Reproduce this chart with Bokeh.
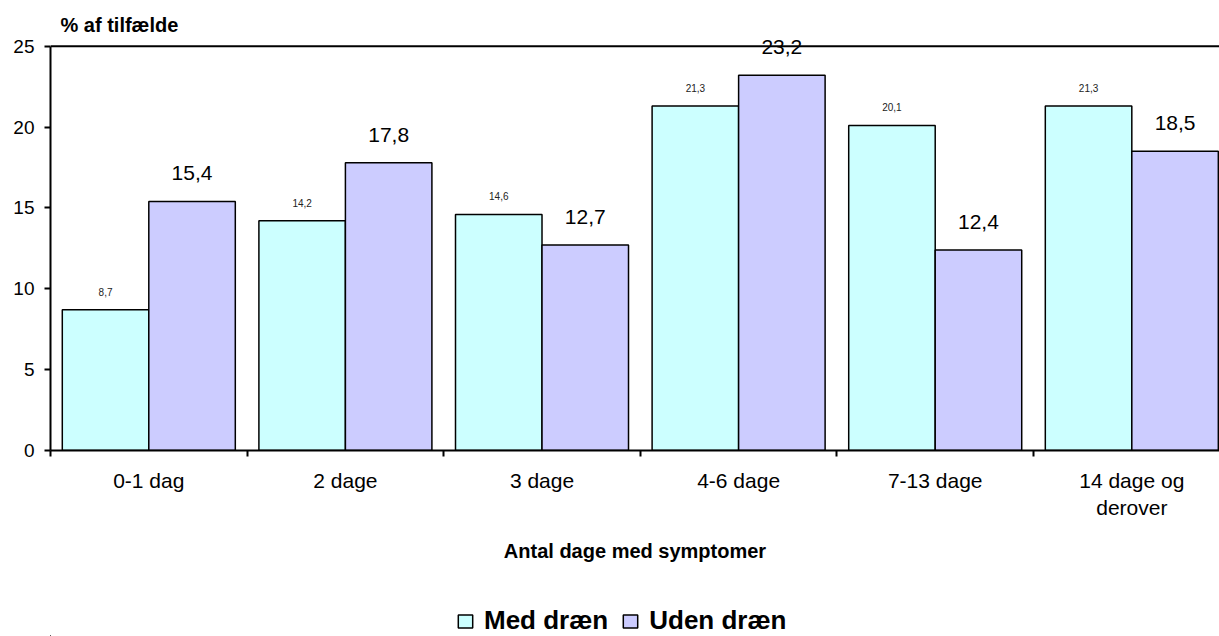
from bokeh.plotting import figure
from bokeh.layouts import column
from bokeh.models import (ColumnDataSource, FixedTicker, LinearAxis, Range1d,
                          LabelSet, Legend, LegendItem, Span)
from bokeh.transform import dodge
from bokeh.core.properties import value
from bokeh.embed import file_html
from bokeh.resources import INLINE

categories = ["0-1 dag", "2 dage", "3 dage", "4-6 dage", "7-13 dage", "14 dage og\nderover"]
med_draen = [8.7, 14.2, 14.6, 21.3, 20.1, 21.3]
uden_draen = [15.4, 17.8, 12.7, 23.2, 12.4, 18.5]
series_names = ["Med dræn", "Uden dræn"]
series_colors = ["#CCFFFF", "#CCCCFF"]
y_ticks = [0, 5, 10, 15, 20, 25]

FONT = "Liberation Sans"

xs = list(range(1, len(categories) + 1))
src = ColumnDataSource(dict(
    x=xs,
    med=med_draen,
    uden=uden_draen,
    med_txt=[f"{v:.1f}".replace(".", ",") for v in med_draen],
    uden_txt=[f"{v:.1f}".replace(".", ",") for v in uden_draen],
))

p = figure(width=1219, height=600, output_backend="svg", toolbar_location=None,
           x_range=Range1d(0.5, 6.446), y_range=Range1d(0, 25.6),
           x_axis_type=None, y_axis_type=None,
           min_border_left=50, min_border_right=0, min_border_top=36,
           min_border_bottom=150)
p.outline_line_color = None
p.background_fill_color = "white"
p.border_fill_color = "white"

# title (y axis caption)
p.title.text = "% af tilfælde"
p.title.text_font = FONT
p.title.text_font_size = "20px"
p.title.text_font_style = "bold"
p.title.text_color = "black"
p.title.align = "left"
p.title.offset = 10
p.title.standoff = 2

# y axis
yax = LinearAxis(ticker=FixedTicker(ticks=y_ticks), bounds=(0, 25))
yax.axis_line_width = 2
yax.axis_line_color = "black"
yax.major_tick_out = 6
yax.major_tick_in = 0
yax.major_tick_line_width = 2
yax.minor_tick_out = 0
yax.minor_tick_in = 0
yax.major_label_text_font = FONT
yax.major_label_text_font_size = "19px"
yax.major_label_text_color = "black"
yax.major_label_standoff = 10
p.add_layout(yax, "left")

# x axis
xax = LinearAxis(ticker=FixedTicker(ticks=xs, minor_ticks=[x - 0.5 for x in xs] + [xs[-1] + 0.5]))
xax.major_label_overrides = {x: c for x, c in zip(xs, categories)}
xax.axis_line_width = 2
xax.axis_line_color = "black"
xax.major_tick_out = 0
xax.major_tick_in = 0
xax.minor_tick_out = 6
xax.minor_tick_in = 0
xax.minor_tick_line_width = 2
xax.minor_tick_line_color = "black"
xax.major_label_text_font = FONT
xax.major_label_text_font_size = "21px"
xax.major_label_text_color = "black"
xax.major_label_standoff = 12
xax.axis_label = "Antal dage med symptomer"
xax.axis_label_text_font = FONT
xax.axis_label_text_font_size = "20px"
xax.axis_label_text_font_style = "bold"
xax.axis_label_text_color = "black"
xax.axis_label_standoff = 18
p.add_layout(xax, "below")

# grid
p.ygrid.ticker = FixedTicker(ticks=y_ticks)
p.ygrid.grid_line_color = "#b8b8b8"
p.ygrid.grid_line_dash = "8 6"
p.ygrid.grid_line_width = 1
p.xgrid.visible = False

# top border line at the top of the value axis
p.add_layout(Span(location=y_ticks[-1], dimension="width", line_color="black", line_width=2))

r1 = p.vbar(x=dodge("x", -0.22, range=p.x_range), top="med", width=0.44, source=src,
            fill_color=series_colors[0], line_color="black", line_width=1.5)
r2 = p.vbar(x=dodge("x", 0.22, range=p.x_range), top="uden", width=0.44, source=src,
            fill_color=series_colors[1], line_color="black", line_width=1.5)

lab1 = LabelSet(x=dodge("x", -0.22, range=p.x_range), y="med", text="med_txt", source=src,
                y_offset=18, text_align="center", text_baseline="middle",
                text_font=value(FONT), text_font_size="10px", text_color="#222222")
lab2 = LabelSet(x=dodge("x", 0.22, range=p.x_range), y="uden", text="uden_txt", source=src,
                y_offset=28, text_align="center", text_baseline="middle",
                text_font=value(FONT), text_font_size="21px", text_color="black")
p.add_layout(lab1)
p.add_layout(lab2)

# legend strip below the chart (its bars lie outside the strip's visible range)
lf = figure(width=1219, height=36, output_backend="svg", toolbar_location=None,
            x_axis_type=None, y_axis_type=None,
            x_range=Range1d(100, 101), y_range=Range1d(100, 101),
            min_border_left=0, min_border_right=0, min_border_top=0, min_border_bottom=0)
lf.outline_line_color = None
lf.grid.visible = False
lr1 = lf.vbar(x="x", top="med", width=0.44, source=src,
              fill_color=series_colors[0], line_color="black", line_width=1.5)
lr2 = lf.vbar(x="x", top="uden", width=0.44, source=src,
              fill_color=series_colors[1], line_color="black", line_width=1.5)
legend = Legend(items=[LegendItem(label=series_names[0], renderers=[lr1]),
                       LegendItem(label=series_names[1], renderers=[lr2])],
                orientation="horizontal", location=(406, 0),
                label_text_font=FONT, label_text_font_size="26px",
                label_text_font_style="bold", label_text_color="black",
                glyph_width=18, glyph_height=16, label_standoff=10, spacing=13,
                padding=0, margin=0, border_line_color=None,
                background_fill_alpha=0)
lf.add_layout(legend, "center")

layout = column(p, lf, spacing=0)
open("out.html", "w").write(file_html(layout, INLINE))
